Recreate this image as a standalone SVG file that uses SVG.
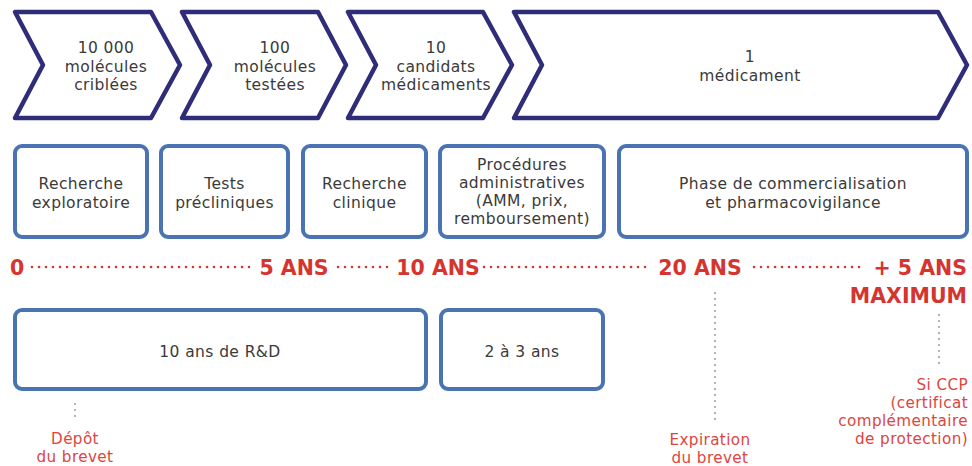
<svg xmlns="http://www.w3.org/2000/svg" width="972" height="466" viewBox="0 0 972 466">
<style>
.chev{fill:#fff;stroke:#2f2c78;stroke-width:4.5;stroke-linejoin:round}
.box{fill:#fff;stroke:#4a73b3;stroke-width:4}
.t{font-family:"DejaVu Sans",sans-serif;font-size:15.5px;letter-spacing:0.4px;fill:#3a3a3a;text-anchor:middle}
.tl{font-family:"DejaVu Sans",sans-serif;font-size:20.5px;font-weight:bold;fill:#d5342f}
.lab{font-family:"DejaVu Sans",sans-serif;font-size:15.2px;letter-spacing:0.4px;fill:#de4440}
.rdots{stroke:#d5342f;stroke-width:2.6;stroke-linecap:round;stroke-dasharray:0 7;fill:none}
.gdots{stroke:#555;stroke-width:1.6;stroke-linecap:round;stroke-dasharray:0 6;fill:none}
</style>
<rect width="972" height="466" fill="#fff"/>
<g id="chevron-1">
<path class="chev" d="M15,12 L151,12 L180,65 L151,118 L15,118 L43,65 Z"/>
<text class="t" x="106" y="53">10 000</text>
<text class="t" x="106" y="71.5">molécules</text>
<text class="t" x="106" y="90">criblées</text>
</g>
<g id="chevron-2">
<path class="chev" d="M182,12 L318,12 L346,65 L318,118 L182,118 L210,65 Z"/>
<text class="t" x="275" y="53">100</text>
<text class="t" x="275" y="71.5">molécules</text>
<text class="t" x="275" y="90">testées</text>
</g>
<g id="chevron-3">
<path class="chev" d="M348,12 L483,12 L512,65 L483,118 L348,118 L376,65 Z"/>
<text class="t" x="436" y="53">10</text>
<text class="t" x="436" y="71.5">candidats</text>
<text class="t" x="436" y="90">médicaments</text>
</g>
<g id="chevron-4">
<path class="chev" d="M514,12 L938,12 L967,65 L938,118 L514,118 L542,65 Z"/>
<text class="t" x="750" y="62">1</text>
<text class="t" x="750" y="80.5">médicament</text>
</g>
<g id="box-recherche-exploratoire">
<rect class="box" x="15" y="146" width="132" height="91" rx="7"/>
<text class="t" x="81" y="189">Recherche</text>
<text class="t" x="81" y="207.5">exploratoire</text>
</g>
<g id="box-tests-precliniques">
<rect class="box" x="161" y="146" width="127" height="91" rx="7"/>
<text class="t" x="224.5" y="189">Tests</text>
<text class="t" x="224.5" y="207.5">précliniques</text>
</g>
<g id="box-recherche-clinique">
<rect class="box" x="303" y="146" width="123" height="91" rx="7"/>
<text class="t" x="364.5" y="189">Recherche</text>
<text class="t" x="364.5" y="207.5">clinique</text>
</g>
<g id="box-procedures">
<rect class="box" x="440" y="146" width="164" height="91" rx="7"/>
<text class="t" x="522" y="170">Procédures</text>
<text class="t" x="522" y="188">administratives</text>
<text class="t" x="522" y="206">(AMM, prix,</text>
<text class="t" x="522" y="224">remboursement)</text>
</g>
<g id="box-commercialisation">
<rect class="box" x="619" y="146" width="348" height="91" rx="7"/>
<text class="t" x="793" y="189">Phase de commercialisation</text>
<text class="t" x="793" y="207.5">et pharmacovigilance</text>
</g>
<g id="timeline">
<text class="tl" x="10" y="275">0</text>
<text class="tl" x="294" y="275" text-anchor="middle">5 ANS</text>
<text class="tl" x="438" y="275" text-anchor="middle">10 ANS</text>
<text class="tl" x="700" y="275" text-anchor="middle">20 ANS</text>
<text class="tl" x="967" y="275" text-anchor="end">+ 5 ANS</text>
<text class="tl" x="967" y="303" text-anchor="end">MAXIMUM</text>
</g>
<g id="box-rd">
<rect class="box" x="15" y="310" width="411" height="79" rx="7"/>
<text class="t" x="220" y="357">10 ans de R&amp;D</text>
</g>
<g id="box-2-3-ans">
<rect class="box" x="441" y="310" width="162" height="79" rx="7"/>
<text class="t" x="522" y="357">2 à 3 ans</text>
</g>
<g id="label-depot">
<text class="lab" x="75" y="443.5" text-anchor="middle">Dépôt</text>
<text class="lab" x="75" y="461.5" text-anchor="middle">du brevet</text>
</g>
<g id="label-expiration">
<text class="lab" x="710" y="444.5" text-anchor="middle">Expiration</text>
<text class="lab" x="710" y="462.5" text-anchor="middle">du brevet</text>
</g>
<g id="label-ccp">
<text class="lab" x="968" y="390" text-anchor="end">Si CCP</text>
<text class="lab" x="968" y="408" text-anchor="end">(certificat</text>
<text class="lab" x="968" y="426" text-anchor="end">complémentaire</text>
<text class="lab" x="968" y="444" text-anchor="end">de protection)</text>
</g>
<g id="connectors">
<line class="rdots" x1="32" y1="267" x2="252" y2="267"/>
<line class="rdots" x1="338" y1="267" x2="394" y2="267"/>
<line class="rdots" x1="484" y1="267" x2="648" y2="267"/>
<line class="rdots" x1="754" y1="267" x2="866" y2="267"/>
<line class="gdots" x1="75" y1="404" x2="75" y2="422"/>
<line class="gdots" x1="715" y1="293" x2="715" y2="420"/>
<line class="gdots" x1="939" y1="315" x2="939" y2="369"/>
</g>
</svg>
